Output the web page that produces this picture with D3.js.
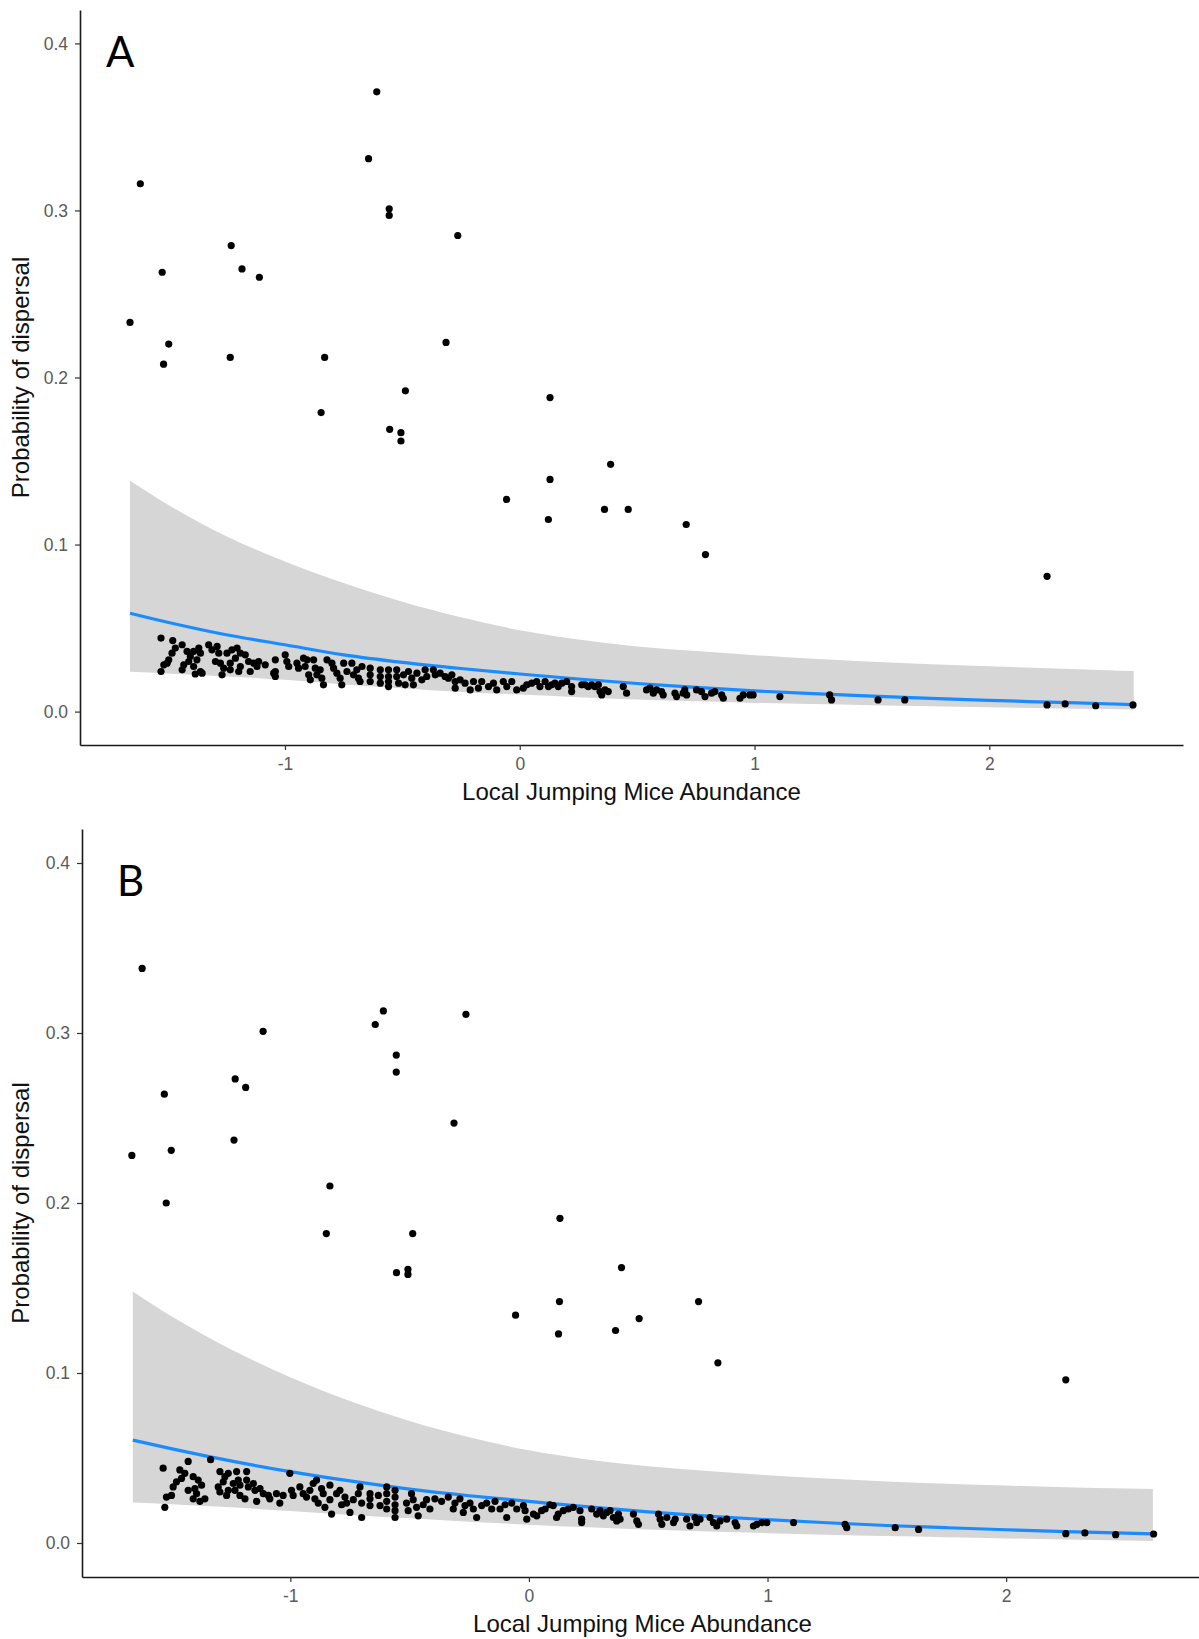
<!DOCTYPE html>
<html>
<head>
<meta charset="utf-8">
<script src="https://cdn.jsdelivr.net/npm/d3@7"></script>
<style>
  body { margin: 0; background: #fff; }
</style>
</head>
<body>
<div id="chart"></div>
<script>
// axis ticks
var xTicks = [-1, 0, 1, 2];
var yTicks = [0, 0.1, 0.2, 0.3, 0.4];

// fitted curve + confidence band at these x positions
var fitX = [-1.66, -1.5, -1.25, -1.0, -0.75, -0.5, -0.25, 0, 0.25, 0.5, 0.75, 1.0, 1.25, 1.5, 1.75, 2.0, 2.25, 2.5, 2.615];

var fitA   = [0.0589, 0.0535, 0.0460, 0.0400, 0.0340, 0.0295, 0.0258, 0.0225, 0.0195, 0.0168, 0.0145, 0.0124, 0.0107, 0.0092, 0.0079, 0.0067, 0.0057, 0.0047, 0.0042];
var upperA = [0.1382, 0.1240, 0.1050, 0.0899, 0.0770, 0.0658, 0.0565, 0.0487, 0.0432, 0.0390, 0.0362, 0.0338, 0.0316, 0.0298, 0.0284, 0.0271, 0.0259, 0.0248, 0.0243];
var lowerA = [0.0238, 0.0228, 0.0210, 0.0190, 0.0162, 0.0140, 0.0118, 0.0102, 0.0086, 0.0072, 0.0062, 0.0052, 0.0045, 0.0038, 0.0032, 0.0026, 0.0020, 0.0015, 0.0013];

var fitB   = [0.0605, 0.0555, 0.0483, 0.0420, 0.0365, 0.0317, 0.0278, 0.0245, 0.0212, 0.0183, 0.0158, 0.0137, 0.0119, 0.0103, 0.0090, 0.0078, 0.0067, 0.0058, 0.0054];
var upperB = [0.1480, 0.1335, 0.1140, 0.0975, 0.0835, 0.0718, 0.0622, 0.0545, 0.0490, 0.0452, 0.0423, 0.0399, 0.0379, 0.0362, 0.0349, 0.0338, 0.0328, 0.0320, 0.0317];
var lowerB = [0.0238, 0.0228, 0.0210, 0.0188, 0.0165, 0.0145, 0.0125, 0.0108, 0.0092, 0.0079, 0.0068, 0.0058, 0.0049, 0.0041, 0.0034, 0.0027, 0.0020, 0.0014, 0.0012];

// observed points: [abundance, probability of dispersal]
var pointsA = [
  [-1.660,0.233],[-1.616,0.316],[-1.523,0.263],[-1.495,0.220],[-1.517,0.208],[-1.229,0.279],[-1.183,0.265],[-1.109,0.260],
  [-1.233,0.212],[-0.831,0.212],[-0.846,0.179],[-0.644,0.331],[-0.609,0.371],[-0.556,0.301],[-0.556,0.297],[-0.264,0.285],
  [-0.314,0.221],[-0.487,0.192],[-0.554,0.169],[-0.506,0.167],[-0.506,0.162],[-0.056,0.127],[0.129,0.188],[0.129,0.139],
  [0.122,0.115],[0.387,0.148],[0.361,0.121],[0.462,0.121],[0.709,0.112],[0.791,0.094],[2.246,0.081],
  [-1.528,0.044],[-1.478,0.0425],[-1.516,0.028],[-1.528,0.024],[-1.467,0.038],[-1.481,0.035],[-1.495,0.031],[-1.502,0.029],
  [-1.438,0.040],[-1.417,0.036],[-1.403,0.033],[-1.410,0.030],[-1.431,0.028],[-1.438,0.025],[-1.389,0.036],[-1.367,0.038],
  [-1.360,0.035],[-1.375,0.031],[-1.389,0.027],[-1.360,0.024],[-1.382,0.0225],[-1.353,0.023],[-1.325,0.040],[-1.311,0.037],
  [-1.289,0.039],[-1.282,0.035],[-1.296,0.030],[-1.275,0.029],[-1.261,0.026],[-1.268,0.022],[-1.247,0.035],[-1.226,0.037],
  [-1.204,0.038],[-1.190,0.035],[-1.211,0.032],[-1.233,0.029],[-1.190,0.027],[-1.197,0.024],[-1.233,0.025],[-1.169,0.034],
  [-1.155,0.030],[-1.133,0.029],[-1.119,0.027],[-1.148,0.024],[-1.112,0.030],[-1.084,0.028],[-1.041,0.031],[-1.041,0.024],
  [-1.041,0.021],[-1.048,0.023],[-0.999,0.034],[-0.992,0.030],[-0.984,0.027],[-0.949,0.029],[-0.942,0.026],[-0.921,0.032],
  [-0.914,0.027],[-0.899,0.022],[-0.892,0.019],[-0.906,0.031],[-0.878,0.031],[-0.871,0.026],[-0.864,0.022],[-0.843,0.020],
  [-0.836,0.016],[-0.850,0.025],[-0.821,0.031],[-0.800,0.029],[-0.793,0.026],[-0.779,0.023],[-0.765,0.020],[-0.758,0.016],
  [-0.750,0.029],[-0.736,0.024],[-0.715,0.029],[-0.708,0.022],[-0.694,0.025],[-0.687,0.020],[-0.680,0.018],[-0.672,0.027],
  [-0.637,0.026],[-0.637,0.022],[-0.637,0.018],[-0.594,0.025],[-0.594,0.021],[-0.594,0.017],[-0.559,0.025],[-0.559,0.021],
  [-0.559,0.018],[-0.559,0.015],[-0.524,0.025],[-0.524,0.021],[-0.516,0.017],[-0.495,0.022],[-0.488,0.016],[-0.474,0.024],
  [-0.460,0.020],[-0.453,0.016],[-0.438,0.023],[-0.417,0.019],[-0.403,0.025],[-0.396,0.021],[-0.368,0.025],[-0.360,0.022],
  [-0.339,0.023],[-0.318,0.021],[-0.304,0.020],[-0.289,0.022],[-0.275,0.018],[-0.275,0.014],[-0.254,0.019],[-0.233,0.017],
  [-0.211,0.013],[-0.197,0.018],[-0.176,0.014],[-0.162,0.018],[-0.133,0.015],[-0.112,0.017],[-0.098,0.013],[-0.070,0.018],
  [-0.055,0.015],[-0.034,0.018],[-0.013,0.013],[0.015,0.014],[0.030,0.016],[0.051,0.017],[0.072,0.018],[0.086,0.015],
  [0.108,0.018],[0.122,0.015],[0.136,0.016],[0.150,0.017],[0.164,0.015],[0.179,0.017],[0.200,0.018],[0.221,0.015],
  [0.221,0.012],[0.264,0.016],[0.278,0.016],[0.292,0.015],[0.306,0.016],[0.320,0.015],[0.335,0.016],[0.342,0.012],
  [0.349,0.010],[0.363,0.013],[0.377,0.012],[0.441,0.015],[0.455,0.011],[0.540,0.013],[0.555,0.014],[0.569,0.011],
  [0.583,0.013],[0.604,0.012],[0.611,0.010],[0.661,0.011],[0.668,0.009],[0.696,0.011],[0.703,0.013],[0.711,0.010],
  [0.753,0.013],[0.774,0.012],[0.789,0.009],[0.817,0.011],[0.831,0.012],[0.860,0.010],[0.867,0.008],[0.938,0.008],
  [0.952,0.010],[0.980,0.010],[0.994,0.010],[1.108,0.009],[1.320,0.010],[1.328,0.007],[1.526,0.007],[1.640,0.007],
  [2.246,0.0040],[2.323,0.0046],[2.453,0.0035],[2.612,0.0040]
];

var pointsB = [
  [-1.621,0.338],[-1.664,0.228],[-1.528,0.264],[-1.499,0.231],[-1.520,0.200],[-1.231,0.273],[-1.187,0.268],[-1.236,0.237],
  [-1.114,0.301],[-0.834,0.210],[-0.849,0.182],[-0.644,0.305],[-0.610,0.313],[-0.556,0.287],[-0.556,0.277],[-0.264,0.311],
  [-0.314,0.247],[0.130,0.191],[-0.487,0.182],[-0.555,0.159],[-0.507,0.161],[-0.507,0.158],[-0.056,0.134],[0.128,0.142],
  [0.124,0.123],[0.388,0.162],[0.363,0.125],[0.462,0.132],[0.711,0.142],[0.792,0.106],[2.250,0.096],
  [-1.533,0.044],[-1.526,0.021],[-1.428,0.048],[-1.463,0.043],[-1.442,0.041],[-1.456,0.038],[-1.477,0.036],[-1.491,0.033],
  [-1.498,0.028],[-1.519,0.027],[-1.407,0.039],[-1.386,0.037],[-1.372,0.034],[-1.400,0.032],[-1.393,0.029],[-1.407,0.026],
  [-1.379,0.0245],[-1.358,0.026],[-1.428,0.031],[-1.334,0.049],[-1.295,0.042],[-1.274,0.039],[-1.260,0.041],[-1.281,0.036],
  [-1.302,0.033],[-1.295,0.030],[-1.260,0.031],[-1.267,0.028],[-1.239,0.035],[-1.225,0.042],[-1.218,0.037],[-1.211,0.034],
  [-1.232,0.031],[-1.211,0.028],[-1.190,0.026],[-1.183,0.042],[-1.183,0.037],[-1.176,0.033],[-1.155,0.035],[-1.148,0.031],
  [-1.141,0.0245],[-1.127,0.032],[-1.113,0.029],[-1.092,0.028],[-1.086,0.026],[-1.058,0.029],[-1.044,0.0235],[-1.030,0.028],
  [-1.002,0.041],[-0.995,0.031],[-0.988,0.028],[-0.960,0.033],[-0.946,0.029],[-0.932,0.027],[-0.918,0.031],[-0.904,0.035],
  [-0.897,0.026],[-0.890,0.037],[-0.883,0.0235],[-0.869,0.032],[-0.862,0.029],[-0.855,0.021],[-0.834,0.034],[-0.834,0.0255],
  [-0.827,0.017],[-0.806,0.029],[-0.792,0.031],[-0.785,0.0225],[-0.771,0.027],[-0.764,0.0235],[-0.750,0.018],[-0.736,0.0255],
  [-0.715,0.029],[-0.708,0.033],[-0.701,0.0235],[-0.701,0.015],[-0.666,0.029],[-0.666,0.026],[-0.666,0.022],[-0.631,0.028],
  [-0.624,0.022],[-0.596,0.033],[-0.596,0.029],[-0.596,0.0245],[-0.596,0.020],[-0.561,0.031],[-0.561,0.027],[-0.561,0.0225],
  [-0.561,0.019],[-0.561,0.015],[-0.513,0.0235],[-0.506,0.019],[-0.492,0.029],[-0.485,0.0255],[-0.471,0.021],[-0.464,0.016],
  [-0.443,0.0225],[-0.429,0.0255],[-0.415,0.020],[-0.394,0.026],[-0.366,0.0245],[-0.338,0.027],[-0.317,0.020],[-0.310,0.0235],
  [-0.289,0.026],[-0.275,0.018],[-0.268,0.022],[-0.247,0.0235],[-0.233,0.020],[-0.219,0.015],[-0.198,0.022],[-0.177,0.0235],
  [-0.156,0.020],[-0.142,0.0245],[-0.121,0.020],[-0.100,0.0225],[-0.093,0.015],[-0.072,0.0235],[-0.051,0.020],
  [-0.023,0.022],[-0.016,0.019],[-0.009,0.014],[0.019,0.017],[0.033,0.016],[0.053,0.019],[0.068,0.020],[0.088,0.0225],
  [0.102,0.022],[0.116,0.015],[0.123,0.017],[0.144,0.019],[0.165,0.020],[0.186,0.021],[0.214,0.019],[0.221,0.014],
  [0.221,0.012],[0.263,0.020],[0.284,0.017],[0.298,0.019],[0.312,0.016],[0.326,0.018],[0.340,0.019],[0.354,0.015],
  [0.368,0.013],[0.375,0.017],[0.382,0.014],[0.438,0.017],[0.452,0.013],[0.459,0.011],[0.543,0.017],[0.550,0.014],
  [0.557,0.011],[0.578,0.015],[0.606,0.012],[0.613,0.014],[0.661,0.014],[0.675,0.010],[0.696,0.015],[0.703,0.012],
  [0.717,0.014],[0.759,0.015],[0.773,0.012],[0.787,0.010],[0.801,0.013],[0.829,0.014],[0.864,0.012],[0.871,0.010],
  [0.941,0.010],[0.955,0.011],[0.976,0.012],[0.997,0.012],[1.109,0.012],[1.325,0.011],[1.332,0.009],[1.535,0.009],
  [1.633,0.008],[2.250,0.0055],[2.330,0.0059],[2.459,0.0049],[2.618,0.0053]
];

var xDomain = [-1.873, 2.825];
var yDomain = [-0.02, 0.42];

var width = 1199, height = 1639;
var svg = d3.select("#chart").append("svg")
    .attr("width", width).attr("height", height)
    .style("font-family", "'Liberation Sans', Arial, Helvetica, sans-serif");

var panels = [
  { letter: "A", fit: fitA, upper: upperA, lower: lowerA, points: pointsA,
    left: 80, right: 1183, top: 10, bottom: 745, letterX: 106, letterY: 67 },
  { letter: "B", fit: fitB, upper: upperB, lower: lowerB, points: pointsB,
    left: 82, right: 1203, top: 829, bottom: 1577, letterX: 117, letterY: 896 }
];

panels.forEach(function(p) {
    var x = d3.scaleLinear().domain(xDomain).range([p.left, p.right]);
    var y = d3.scaleLinear().domain(yDomain).range([p.bottom, p.top]);
    var g = svg.append("g");

    // confidence band
    var area = d3.area()
        .x(function(d, i) { return x(fitX[i]); })
        .y0(function(d, i) { return y(p.lower[i]); })
        .y1(function(d, i) { return y(p.upper[i]); })
        .curve(d3.curveMonotoneX);
    g.append("path").datum(fitX).attr("d", area).attr("fill", "#d6d6d6");

    // fitted line
    var line = d3.line()
        .x(function(d, i) { return x(fitX[i]); })
        .y(function(d, i) { return y(p.fit[i]); })
        .curve(d3.curveMonotoneX);
    g.append("path").datum(fitX).attr("d", line)
        .attr("fill", "none").attr("stroke", "#1a8cff").attr("stroke-width", 3.2);

    // points
    g.selectAll("circle.pt").data(p.points).enter().append("circle")
        .attr("class", "pt")
        .attr("cx", function(d) { return x(d[0]); })
        .attr("cy", function(d) { return y(d[1]); })
        .attr("r", 3.6)
        .attr("fill", "#000");

    // axes
    var xAxis = g.append("g").attr("transform", "translate(0," + p.bottom + ")")
        .call(d3.axisBottom(x).tickValues(xTicks).tickSize(5).tickSizeOuter(0).tickPadding(8)
            .tickFormat(function(d) { return String(d); }));
    var yAxis = g.append("g").attr("transform", "translate(" + p.left + ",0)")
        .call(d3.axisLeft(y).tickValues(yTicks).tickSize(5).tickSizeOuter(0).tickPadding(7)
            .tickFormat(d3.format(".1f")));

    [xAxis, yAxis].forEach(function(a) {
        a.attr("font-family", null).attr("font-size", null);
        a.select(".domain").attr("stroke", "#1a1a1a").attr("stroke-width", 1.6);
        a.selectAll(".tick line").attr("stroke", "#333").attr("stroke-width", 1.2);
        a.selectAll(".tick text").attr("fill", "#5a5a5a").style("font-size", "17.5px");
    });

    // axis titles
    g.append("text")
        .attr("x", (p.left + p.right) / 2).attr("y", p.bottom + 55)
        .attr("text-anchor", "middle")
        .style("font-size", "24px").attr("fill", "#111")
        .text("Local Jumping Mice Abundance");
    g.append("text")
        .attr("transform", "translate(29," + (p.top + p.bottom) / 2 + ") rotate(-90)")
        .attr("text-anchor", "middle")
        .style("font-size", "24px").attr("fill", "#111")
        .text("Probability of dispersal");

    // panel letter
    g.append("text")
        .attr("x", p.letterX).attr("y", p.letterY)
        .style("font-family", "Lato, 'Open Sans', sans-serif")
        .style("font-size", "42px").attr("fill", "#000")
        .text(p.letter);
});
</script>
</body>
</html>
